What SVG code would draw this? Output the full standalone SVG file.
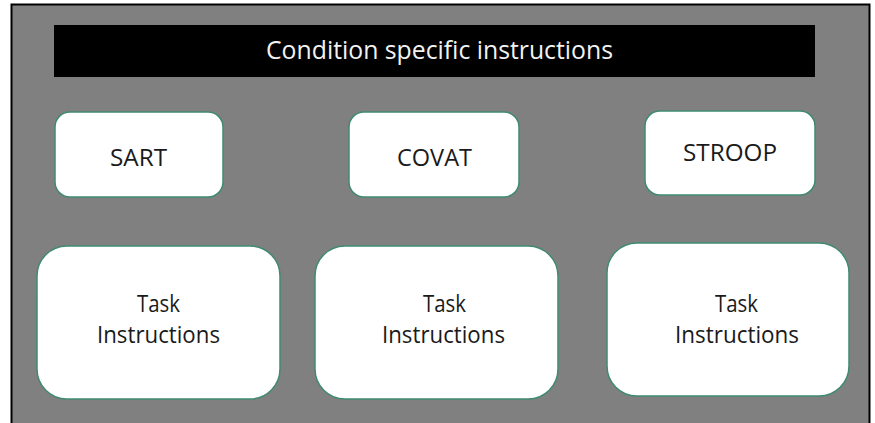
<svg xmlns="http://www.w3.org/2000/svg" width="875" height="423" viewBox="0 0 875 423">
<style>
.box{fill:#ffffff;stroke:#3f8a70;stroke-width:1.5}
.lbl{font-family:"Open Sans","Noto Sans",sans-serif;font-size:24px;fill:#1a1a1a;text-anchor:middle}
.title{font-family:"Open Sans","Noto Sans",sans-serif;font-size:25px;fill:#f2f2f2;text-anchor:middle}
</style>
<rect x="0" y="0" width="875" height="423" fill="#ffffff"/>
<rect x="11.5" y="4.5" width="858" height="430" fill="#808080" stroke="#000000" stroke-width="2"/>
<g id="title">
<rect x="54" y="25" width="761" height="52" fill="#000000"/>
<text class="title" x="439.5" y="59" textLength="347" lengthAdjust="spacingAndGlyphs">Condition specific instructions</text>
</g>
<g id="sart">
<rect class="box" x="55" y="112" width="168" height="85" rx="15"/>
<text class="lbl" x="138.5" y="166" textLength="57" lengthAdjust="spacingAndGlyphs">SART</text>
</g>
<g id="covat">
<rect class="box" x="349" y="112" width="170" height="85" rx="15"/>
<text class="lbl" x="434.5" y="166" textLength="75" lengthAdjust="spacingAndGlyphs">COVAT</text>
</g>
<g id="stroop">
<rect class="box" x="645" y="111" width="170" height="84" rx="15"/>
<text class="lbl" x="730" y="161" textLength="94" lengthAdjust="spacingAndGlyphs">STROOP</text>
</g>
<g id="task1">
<rect class="box" x="37" y="246" width="243" height="153" rx="30"/>
<text class="lbl" x="158.5" y="312" textLength="43" lengthAdjust="spacingAndGlyphs">Task</text>
<text class="lbl" x="158.5" y="343" textLength="123" lengthAdjust="spacingAndGlyphs">Instructions</text>
</g>
<g id="task2">
<rect class="box" x="315" y="246" width="243" height="153" rx="30"/>
<text class="lbl" x="444.5" y="312" textLength="43" lengthAdjust="spacingAndGlyphs">Task</text>
<text class="lbl" x="443.5" y="343" textLength="123" lengthAdjust="spacingAndGlyphs">Instructions</text>
</g>
<g id="task3">
<rect class="box" x="607" y="243" width="242" height="153" rx="30"/>
<text class="lbl" x="736.5" y="312" textLength="43" lengthAdjust="spacingAndGlyphs">Task</text>
<text class="lbl" x="737" y="343" textLength="124" lengthAdjust="spacingAndGlyphs">Instructions</text>
</g>
<g id="connectors"></g>
</svg>
